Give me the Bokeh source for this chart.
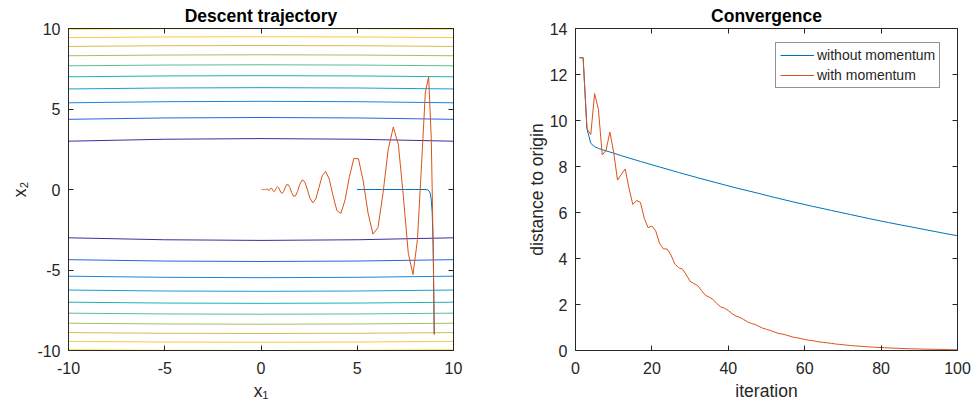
from bokeh.plotting import figure
from bokeh.models import (Range1d, FixedTicker, LinearAxis, Legend, LegendItem,
                          CustomJSTickFormatter)
from bokeh.layouts import row
from bokeh.embed import file_html
from bokeh.resources import INLINE

# ---------------- data ----------------
# contour levels of f(x1, x2); each row: x2 of the upper branch at contour_x1
contour_x1 = [-10, -5, 0, 5, 10]
contour_levels = [10, 20, 30, 40, 50, 60, 70, 80, 90, 100]
contour_x2 = [
    [3.000, 3.122, 3.162, 3.122, 3.000],
    [4.359, 4.444, 4.472, 4.444, 4.359],
    [5.385, 5.454, 5.477, 5.454, 5.385],
    [6.245, 6.305, 6.325, 6.305, 6.245],
    [7.000, 7.053, 7.071, 7.053, 7.000],
    [7.681, 7.730, 7.746, 7.730, 7.681],
    [8.307, 8.352, 8.367, 8.352, 8.307],
    [8.888, 8.930, 8.944, 8.930, 8.888],
    [9.434, 9.474, 9.487, 9.474, 9.434],
    [9.950, 9.987, 10.000, 9.987, 9.950],
]
contour_colors = ["#38309c", "#2a62e0", "#1a84e0", "#12a2d6", "#18b5b4",
                  "#5cbd92", "#a6be66", "#dcb84e", "#f7cc3e", "#f3e62a"]

# trajectory without momentum
gd_x1 = [9.0, 8.946, 8.893, 8.839, 8.786, 8.733, 8.681, 8.629, 8.577,
         8.474, 7.979, 7.513, 7.074, 6.661, 6.272, 5.906, 5.561, 5.236, 4.990]
gd_x2 = [-9.0, -3.6, -1.44, -0.576, -0.230, -0.092, -0.037, -0.015, -0.006,
         0.0, 0.0, 0.0, 0.0, 0.0, 0.0, 0.0, 0.0, 0.0, 0.0]

# trajectory with momentum
mom_x1 = [9.0, 8.946, 8.846, 8.709, 8.539, 8.344, 8.128, 7.896, 7.651, 7.397,
          7.137, 6.873, 6.607, 6.342, 6.078, 5.817, 5.561, 5.309, 5.064, 4.825,
          4.593, 4.368, 4.150, 3.941, 3.739, 3.545, 3.359, 3.180, 3.010, 2.847,
          2.691, 2.542, 2.401, 2.266, 2.138, 2.016, 1.901, 1.791, 1.687, 1.589,
          1.496, 1.407, 1.324, 1.245, 1.171, 1.100, 1.034, 0.971, 0.912, 0.856,
          0.804, 0.755, 0.708, 0.664, 0.623, 0.584, 0.548, 0.513, 0.481, 0.451,
          0.422, 0.396, 0.371, 0.347, 0.325, 0.304, 0.285, 0.267, 0.250, 0.234,
          0.218, 0.204, 0.191, 0.179, 0.167, 0.156, 0.146, 0.137, 0.128, 0.119,
          0.112, 0.104, 0.097, 0.091, 0.085, 0.079, 0.074, 0.069, 0.065, 0.060,
          0.056, 0.053, 0.049, 0.046, 0.043, 0.040, 0.037, 0.035, 0.032]
mom_x2 = [-9.0, -3.6, 3.15, 6.998, 6.069, 1.639, -3.110, -5.281, -3.957, -0.458,
          2.791, 3.878, 2.475, -0.202, -2.357, -2.774, -1.464, 0.528, 1.904, 1.932,
          0.796, -0.647, -1.485, -1.307, -0.371, 0.647, 1.124, 0.855, 0.113, -0.585,
          -0.828, -0.537, 0.032, 0.497, 0.594, 0.320, -0.105, -0.403, -0.415, -0.176,
          0.133, 0.315, 0.281, 0.084, -0.135, -0.239, -0.185, -0.027, 0.123, 0.177,
          0.116, -0.005, -0.105, -0.127, -0.070, 0.021, 0.085, 0.089, 0.039, -0.027,
          -0.067, -0.060, -0.019, 0.028, 0.051, 0.040, 0.010, -0.020, -0.035, -0.028,
          -0.005, 0.016, 0.024, 0.017, 0.002, -0.011, -0.015, -0.010, 0.0, 0.0,
          0.0, 0.0, 0.0, 0.0, 0.0, 0.0, 0.0, 0.0, 0.0, 0.0,
          0.0, 0.0, 0.0, 0.0, 0.0, 0.0, 0.0, 0.0, 0.0]

# convergence: distance to origin per iteration
gd_iter = [1, 2, 3, 4, 5, 6, 7, 8, 9, 10, 12, 17, 22, 27, 32, 37, 42, 47, 52,
           57, 62, 67, 72, 77, 82, 87, 92, 97, 100]
gd_dist = [12.73, 12.73, 9.64, 9.01, 8.86, 8.79, 8.73, 8.68, 8.63, 8.58, 8.47,
           8.22, 7.98, 7.74, 7.51, 7.29, 7.07, 6.87, 6.66, 6.46, 6.27, 6.09, 5.91,
           5.73, 5.56, 5.40, 5.24, 5.08, 4.99]
mom_dist = [12.73, 12.73, 9.64, 9.39, 11.17, 10.48, 8.50, 8.70, 9.50, 8.61,
            7.41, 7.66, 7.89, 7.06, 6.35, 6.52, 6.44, 5.75, 5.34, 5.41,
            5.20, 4.66, 4.42, 4.41, 4.15, 3.76, 3.60, 3.54, 3.29, 3.01,
            2.91, 2.82, 2.60, 2.40, 2.32, 2.22, 2.04, 1.90, 1.84, 1.74,
            1.60, 1.50, 1.44, 1.35, 1.25, 1.18, 1.13, 1.05, 0.97, 0.92,
            0.87, 0.81, 0.75, 0.72, 0.68, 0.63, 0.58, 0.55, 0.52, 0.48,
            0.45, 0.43, 0.40, 0.37, 0.35, 0.33, 0.31, 0.285, 0.267, 0.250,
            0.234, 0.218, 0.204, 0.191, 0.179, 0.167, 0.156, 0.146, 0.137, 0.128,
            0.119, 0.112, 0.104, 0.097, 0.091, 0.085, 0.079, 0.074, 0.069, 0.065,
            0.060, 0.056, 0.053, 0.049, 0.046, 0.043, 0.040, 0.037, 0.035, 0.032]
mom_iter = list(range(1, len(mom_dist) + 1))

x_ticks_left = [-10, -5, 0, 5, 10]
y_ticks_left = [-10, -5, 0, 5, 10]
tick_text_left = {-10: "-10", -5: "-5", 0: "0", 5: "5", 10: "10"}
x_ticks_right = [0, 20, 40, 60, 80, 100]
y_ticks_right = [0, 2, 4, 6, 8, 10, 12, 14]

# ---------------- styling ----------------
FONT = "Liberation Sans"
AX = "#262626"
BLUE = "#0072BD"
RED = "#D95319"


def make_fig(title, xr, yr, xticks, yticks, xlabel, ylabel, frame_w,
             border_left, border_right, ylab_standoff, overrides=None):
    p = figure(frame_width=frame_w, frame_height=322, x_range=xr, y_range=yr,
               output_backend="svg", toolbar_location=None,
               min_border_left=border_left, min_border_right=border_right,
               min_border_top=28, min_border_bottom=40)
    p.title.text = title
    p.title.align = "center"
    p.title.text_font = FONT
    p.title.text_font_size = "17.5px"
    p.title.text_font_style = "bold"
    p.title.text_color = "black"
    p.title.standoff = 6
    p.grid.visible = False
    p.outline_line_color = None
    p.background_fill_color = "white"
    p.border_fill_color = "white"

    for loc in ("above", "right"):
        p.add_layout(LinearAxis(formatter=CustomJSTickFormatter(code="return ''")), loc)

    p.xaxis.ticker = FixedTicker(ticks=xticks)
    p.yaxis.ticker = FixedTicker(ticks=yticks)
    for ax in p.axis:
        ax.axis_line_color = AX
        ax.axis_line_width = 1
        ax.major_tick_line_color = AX
        ax.minor_tick_line_color = None
        ax.major_tick_in = 5
        ax.major_tick_out = 0
        ax.major_label_text_font = FONT
        ax.major_label_text_color = AX
    for ax in (p.above[0], p.right[0]):
        ax.major_label_text_font_size = "1px"
        ax.major_label_standoff = 0

    xa = p.below[0]
    xa.major_label_text_font_size = "16px"
    xa.major_label_standoff = 11
    xa.axis_label = xlabel
    xa.axis_label_text_font = FONT
    xa.axis_label_text_font_size = "17.5px"
    xa.axis_label_text_font_style = "normal"
    xa.axis_label_text_color = AX
    xa.axis_label_standoff = 4

    ya = p.left[0]
    ya.major_label_text_font_size = "16px"
    ya.major_label_standoff = 8
    ya.axis_label = ylabel
    ya.axis_label_text_font = FONT
    ya.axis_label_text_font_size = "17.5px"
    ya.axis_label_text_font_style = "normal"
    ya.axis_label_text_color = AX
    ya.axis_label_standoff = ylab_standoff
    if overrides:
        xa.major_label_overrides = overrides
        ya.major_label_overrides = overrides
    return p


# ---------------- left: descent trajectory ----------------
p1 = make_fig("Descent trajectory", Range1d(-10, 10), Range1d(-10, 10),
              x_ticks_left, y_ticks_left, "x\u2081", "x\u2082", 385, 68, 11, 4,
              overrides=tick_text_left)

c_xs, c_ys, c_cols = [], [], []
for vals, col in zip(contour_x2, contour_colors):
    for sgn in (1, -1):
        c_xs.append(contour_x1)
        c_ys.append([sgn * v for v in vals])
        c_cols.append(col)
p1.multi_line(c_xs, c_ys, line_color=c_cols, line_width=1)

p1.line(gd_x1, gd_x2, line_color=BLUE, line_width=1)
p1.line(mom_x1, mom_x2, line_color=RED, line_width=1)

# ---------------- right: convergence ----------------
p2 = make_fig("Convergence", Range1d(0, 100), Range1d(0, 14),
              x_ticks_right, y_ticks_right, "iteration", "distance to origin",
              382, 111, 15, 0)

r_gd = p2.line(gd_iter, gd_dist, line_color=BLUE, line_width=1)
r_mom = p2.line(mom_iter, mom_dist, line_color=RED, line_width=1)

legend = Legend(items=[LegendItem(label="without momentum", renderers=[r_gd]),
                       LegendItem(label="with momentum", renderers=[r_mom])],
                location=(200, 262))
legend.margin = 0
legend.padding = 4
legend.spacing = 4
legend.glyph_width = 34
legend.glyph_height = 16
legend.label_height = 16
legend.label_standoff = 3
legend.label_text_font = FONT
legend.label_text_font_size = "14px"
legend.label_text_color = AX
legend.border_line_color = AX
legend.border_line_width = 1
legend.background_fill_color = "white"
legend.background_fill_alpha = 1
p2.add_layout(legend)

layout = row(p1, p2)
open("out.html", "w").write(file_html(layout, INLINE))
